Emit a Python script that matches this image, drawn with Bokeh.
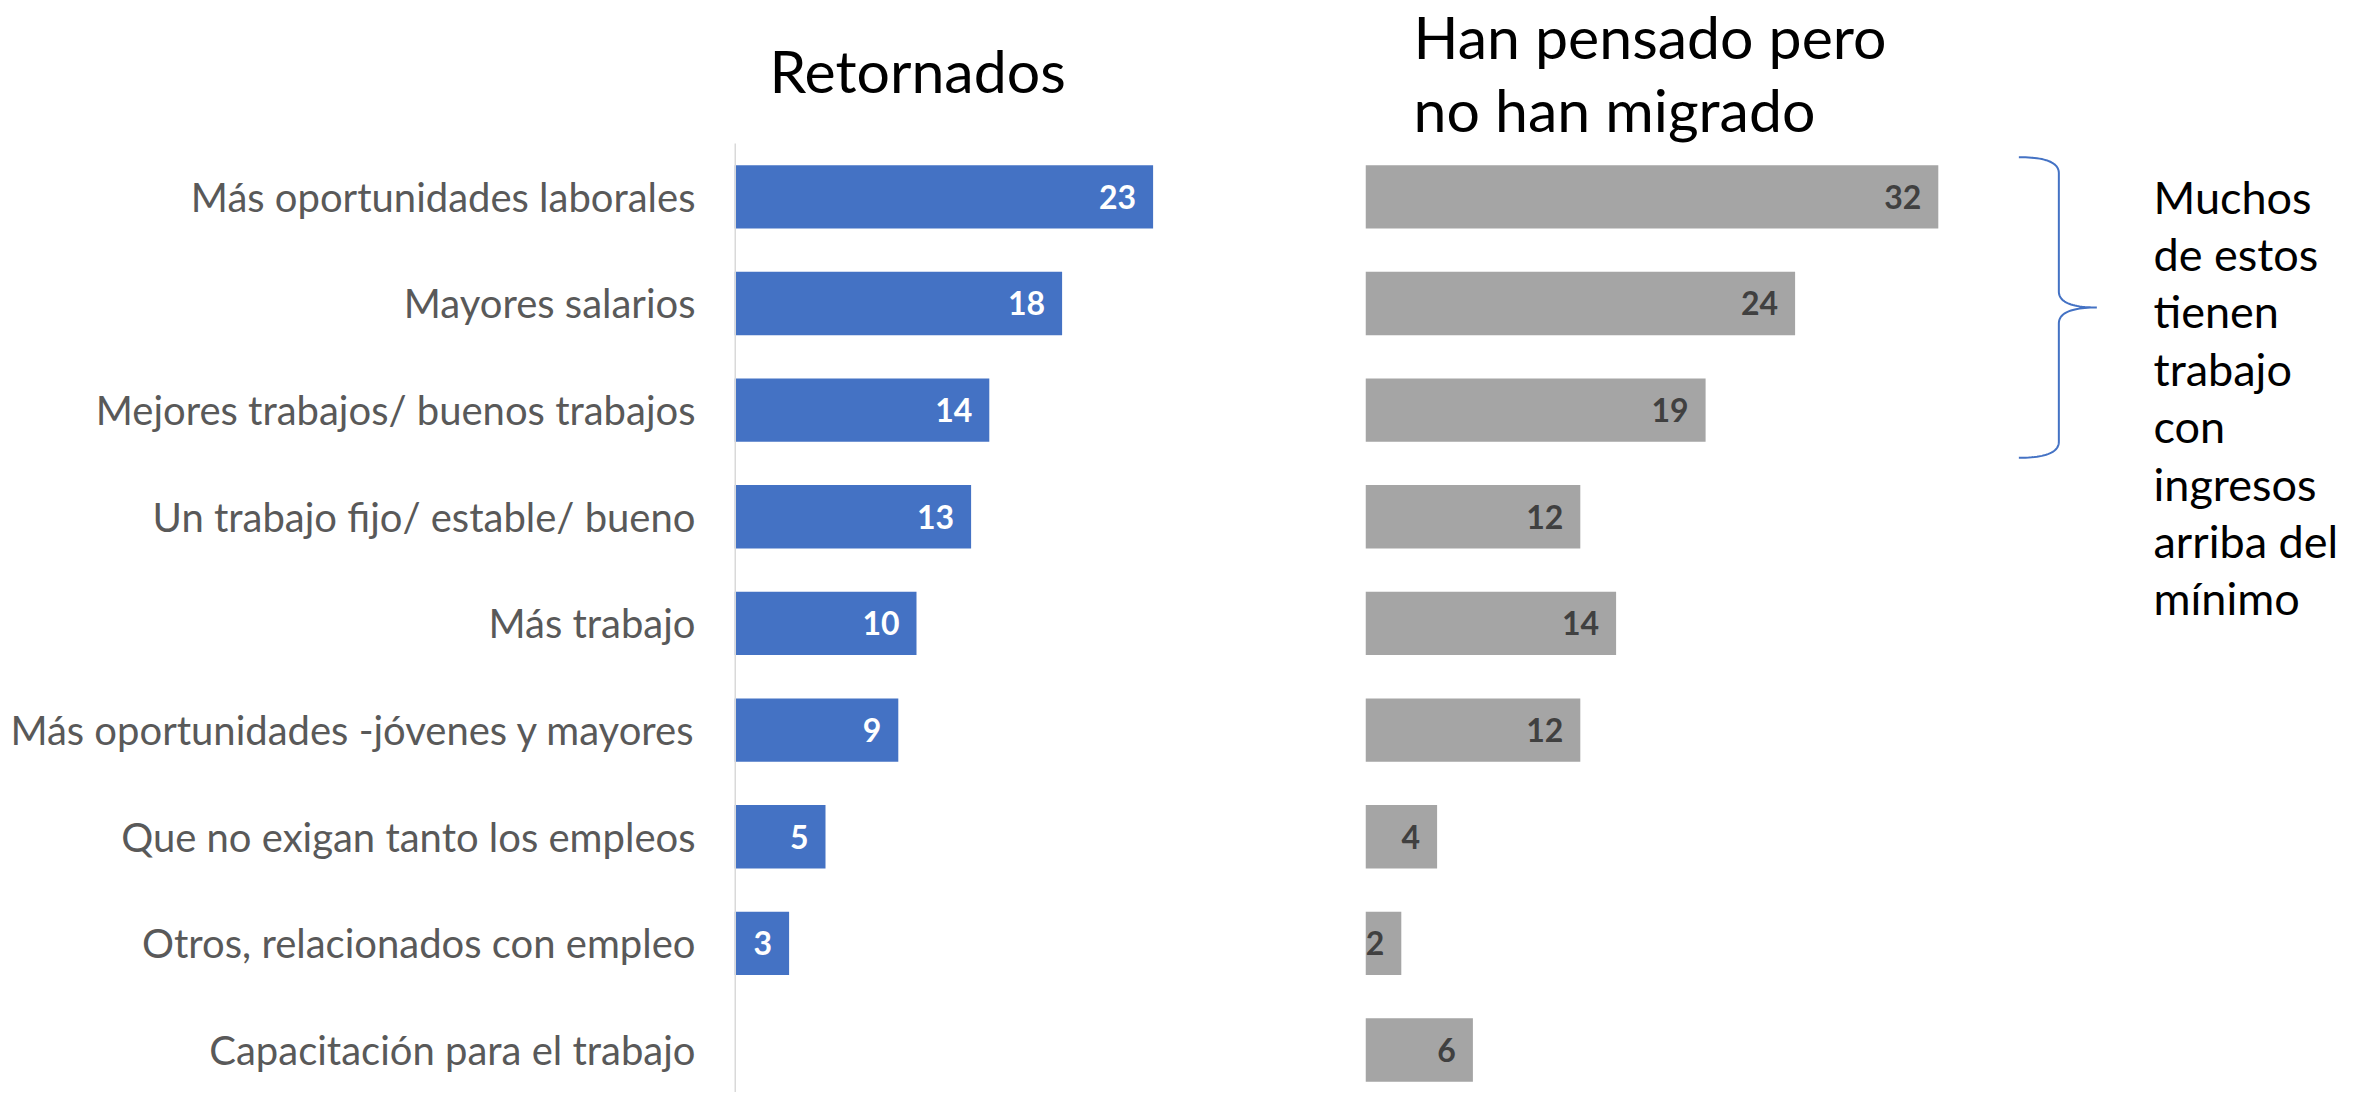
import numpy as np
from bokeh.plotting import figure
from bokeh.layouts import row
from bokeh.models import Range1d, Label, ColumnDataSource, FixedTicker
from bokeh.embed import file_html
from bokeh.resources import INLINE
from bokeh.core.properties import value

# ---------------- data ----------------
categories = [
    "Más oportunidades laborales",
    "Mayores salarios",
    "Mejores trabajos/ buenos trabajos",
    "Un trabajo fijo/ estable/ bueno",
    "Más trabajo",
    "Más oportunidades -jóvenes y mayores",
    "Que no exigan tanto los empleos",
    "Otros, relacionados con empleo",
    "Capacitación para el trabajo",
]
retornados = [23, 18, 14, 13, 10, 9, 5, 3, 0]
no_migrado = [32, 24, 19, 12, 14, 12, 4, 2, 6]
title_left = "Retornados"
title_right = ["Han pensado pero", "no han migrado"]
note_lines = ["Muchos", "de estos", "tienen", "trabajo", "con", "ingresos", "arriba del", "mínimo"]

# ---------------- layout constants ----------------
FONT = "Lato"
XS1 = 18.2         # px per unit, left panel
XS2 = 17.9         # px per unit, right panel
PITCH = 106.65     # px per category
H = 1092
BAR_TOP = 143      # where the category band starts
W1, W2 = 1300, 1056
L1, L2 = 734, 65
BAR_H = 0.594
TITLE_FS = 59
NOTE_FS = 45

idx = list(range(len(categories)))
y_top = -0.5 - BAR_TOP / PITCH
y_bottom = -0.5 + (H - BAR_TOP) / PITCH


def sy(page_y, fs):
    # screen y counts upward from the frame bottom (= figure bottom);
    # small correction for how the baseline is placed
    return H - page_y + 0.37 * fs


def make_fig(width, left, xs):
    p = figure(width=width, height=H, x_range=Range1d(0, (width - left) / xs),
               y_range=Range1d(y_bottom, y_top), output_backend="svg",
               toolbar_location=None, min_border_left=left, min_border_right=0,
               min_border_top=0, min_border_bottom=0)
    p.outline_line_color = None
    p.grid.visible = False
    p.xaxis.visible = False
    p.background_fill_color = "white"
    p.border_fill_color = "white"
    return p


# ---------------- left panel ----------------
p1 = make_fig(W1, L1, XS1)
src1 = ColumnDataSource(dict(y=idx, v=retornados))
p1.hbar(y="y", left=0, right="v", height=BAR_H, source=src1,
        fill_color="#4472C4", line_color=None)
lab1 = [(i, v) for i, v in zip(idx, retornados) if v > 0]
src1l = ColumnDataSource(dict(y=[i for i, _ in lab1], v=[v for _, v in lab1],
                              t=[str(v) for _, v in lab1]))
p1.text(x="v", y="y", text="t", source=src1l,
        x_offset=-17, text_align="right", text_baseline="middle",
        text_color="white", text_font_size="32px", text_font_style="bold",
        text_font=value(FONT))
# vertical baseline of the category axis, over the category band only
p1.segment(x0=[0], y0=[-0.5], x1=[0], y1=[y_bottom], line_color="#D9D9D9", line_width=3)

ya = p1.yaxis[0]
ya.ticker = FixedTicker(ticks=idx)
ya.major_label_overrides = {i: c for i, c in zip(idx, categories)}
ya.axis_line_color = None
ya.major_tick_line_color = None
ya.minor_tick_line_color = None
ya.major_label_standoff = 33
ya.major_label_text_font = FONT
ya.major_label_text_font_size = "40px"
ya.major_label_text_color = "#595959"

p1.add_layout(Label(x=35 / XS1, y=sy(92, TITLE_FS), x_units="data", y_units="screen",
                    text=title_left, text_font=FONT, text_font_size=f"{TITLE_FS}px",
                    text_color="black", text_baseline="alphabetic"))

# ---------------- right panel ----------------
p2 = make_fig(W2, L2, XS2)
p2.yaxis.visible = False
src2 = ColumnDataSource(dict(y=idx, v=no_migrado, t=[str(v) for v in no_migrado]))
p2.hbar(y="y", left=0, right="v", height=BAR_H, source=src2,
        fill_color="#A5A5A5", line_color=None)
p2.text(x="v", y="y", text="t", source=src2,
        x_offset=-17, text_align="right", text_baseline="middle",
        text_color="#404040", text_font_size="32px", text_font_style="bold",
        text_font=value(FONT))

for k, line in enumerate(title_right):
    p2.add_layout(Label(x=48 / XS2, y=sy(58 + k * 73, TITLE_FS), x_units="data", y_units="screen",
                        text=line, text_font=FONT, text_font_size=f"{TITLE_FS}px",
                        text_color="black", text_baseline="alphabetic"))

for k, line in enumerate(note_lines):
    p2.add_layout(Label(x=788 / XS2, y=sy(212.7 + k * 57.4, NOTE_FS), x_units="data", y_units="screen",
                        text=line, text_font=FONT, text_font_size=f"{NOTE_FS}px",
                        text_color="black", text_baseline="alphabetic"))


# brace grouping the first three categories
def quad(a, c, b, n=24):
    t = np.linspace(0, 1, n)[:, None]
    return (1 - t) ** 2 * np.array(a) + 2 * (1 - t) * t * np.array(c) + t ** 2 * np.array(b)


x0 = max(no_migrado[:3]) + 4.5
x1 = x0 + 40 / XS2
x2 = x1 + 38 / XS2
yt = 0 - 0.5 * BAR_H - 0.075
yb = 2 + 0.5 * BAR_H + 0.15
ym = (yt + yb) / 2
r = 16 / PITCH
pts = np.vstack([
    quad((x0, yt), (x1, yt), (x1, yt + r)),
    quad((x1, ym - r), (x1, ym), (x2, ym)),
    quad((x2, ym), (x1, ym), (x1, ym + r)),
    quad((x1, yb - r), (x1, yb), (x0, yb)),
])
p2.line(pts[:, 0], pts[:, 1], line_color="#4472C4", line_width=2)

layout = row(p1, p2, spacing=0)
open("out.html", "w").write(file_html(layout, INLINE))
